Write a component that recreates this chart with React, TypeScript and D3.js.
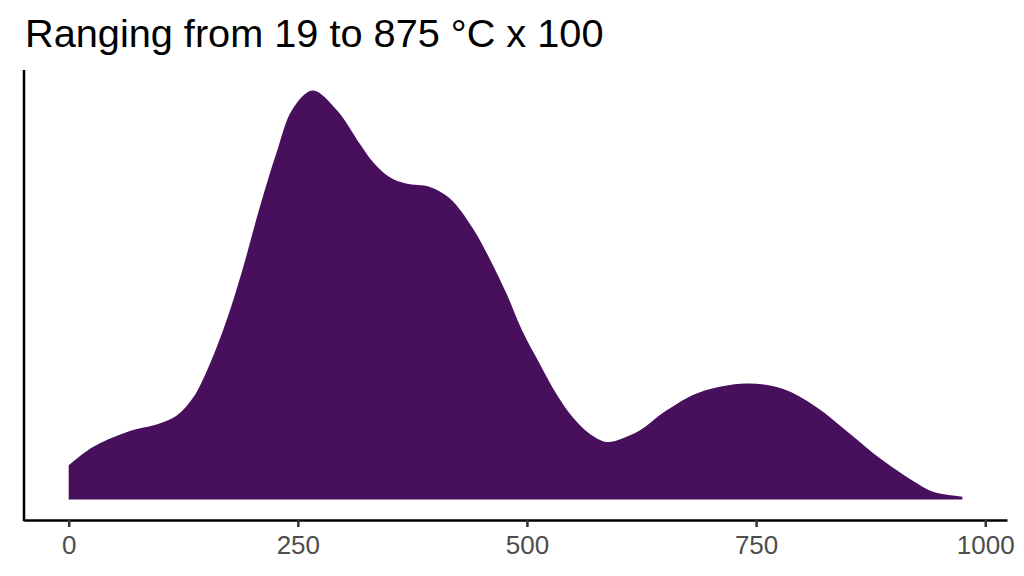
import React, { useEffect, useRef } from 'react';
import * as d3 from 'd3';

// density estimate (x in °C x 100, y density x 1e-3)
const tempX = [0, 26, 63, 99, 118, 136, 154, 172, 190, 208, 227, 244, 266, 292, 318, 332, 350, 368, 394, 416, 441, 459, 478, 495, 514, 532, 550, 568, 587, 604, 623, 652, 688, 739, 779, 816, 852, 888, 925, 943, 975];
const densityY = [0.208, 0.318, 0.409, 0.461, 0.51, 0.62, 0.823, 1.083, 1.402, 1.764, 2.108, 2.367, 2.482, 2.367, 2.156, 2.048, 1.957, 1.917, 1.897, 1.826, 1.645, 1.464, 1.245, 1.022, 0.823, 0.642, 0.499, 0.401, 0.349, 0.371, 0.419, 0.54, 0.65, 0.704, 0.672, 0.56, 0.401, 0.238, 0.1, 0.047, 0.017];
const xTicks = [0, 250, 500, 750, 1000];
const title = 'Ranging from 19 to 875 °C x 100';

const W = 1024;
const H = 576;
const margin = { top: 70, right: 17, bottom: 56, left: 24 };

export default function App() {
  const svgRef = useRef<SVGSVGElement>(null);

  useEffect(() => {
    if (!svgRef.current) return;
    const svg = d3.select(svgRef.current);
    svg.selectAll('*').remove();

    const font = '"Liberation Sans", Arial, Helvetica, sans-serif';
    const pts = tempX.map((x, i) => ({ x, y: densityY[i] }));

    // ggplot-style 5% expansion on both axes
    const xMin = d3.min(tempX)!;
    const xMax = d3.max(tempX)!;
    const xPad = (xMax - xMin) * 0.05;
    const yMax = d3.max(densityY)!;
    const yPad = yMax * 0.05;

    const x = d3.scaleLinear()
      .domain([xMin - xPad, xMax + xPad])
      .range([margin.left, W - margin.right]);
    const y = d3.scaleLinear()
      .domain([-yPad, yMax + yPad])
      .range([H - margin.bottom, margin.top]);

    const area = d3.area<{ x: number; y: number }>()
      .x(d => x(d.x))
      .y0(y(0))
      .y1(d => y(d.y))
      .curve(d3.curveCatmullRom.alpha(0.5));

    svg.append('path')
      .datum(pts)
      .attr('d', area)
      .attr('fill', '#480f5c');

    // x axis
    const xAxis = svg.append('g')
      .attr('transform', `translate(0,${H - margin.bottom})`)
      .call(d3.axisBottom(x)
        .tickValues(xTicks)
        .tickFormat(d3.format('d'))
        .tickSize(7)
        .tickPadding(8.5)
        .tickSizeOuter(0));
    xAxis.select('.domain').attr('stroke', '#000').attr('stroke-width', 2.5);
    xAxis.selectAll('.tick line').attr('stroke', '#333').attr('stroke-width', 2.5);
    xAxis.selectAll('.tick text')
      .attr('fill', '#4d4d4d')
      .style('font-family', font)
      .style('font-size', '26px');

    // y axis line only
    svg.append('line')
      .attr('x1', margin.left).attr('x2', margin.left)
      .attr('y1', margin.top).attr('y2', H - margin.bottom + 1.25)
      .attr('stroke', '#000')
      .attr('stroke-width', 2.5);

    svg.append('text')
      .attr('x', 25)
      .attr('y', 47)
      .style('font-family', font)
      .style('font-size', '39.7px')
      .attr('fill', '#000')
      .text(title);
  }, []);

  return (
    <svg ref={svgRef} width={W} height={H} style={{ display: 'block', position: 'absolute', left: 0, top: 0, background: '#fff' }} />
  );
}
